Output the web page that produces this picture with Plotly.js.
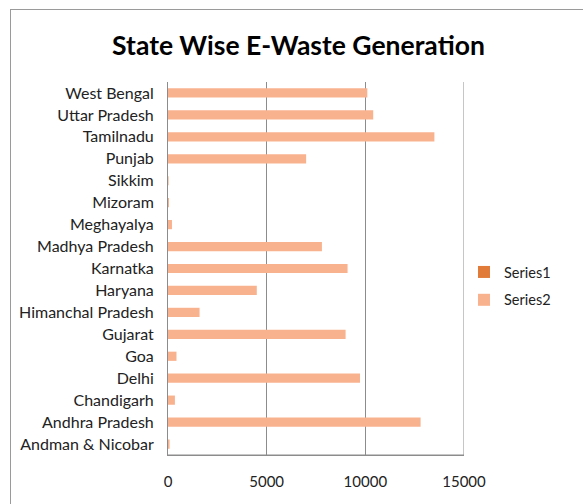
<!DOCTYPE html>
<html><head><meta charset="utf-8">
<script src="https://cdn.plot.ly/plotly-3.0.1.min.js"></script>
<style>
html,body{margin:0;padding:0;background:#fff;}
#wrap{position:relative;width:583px;height:504px;overflow:hidden;}
#plot{position:absolute;left:0;top:0;width:583px;height:504px;}
#frame{position:absolute;left:10px;top:9px;width:600px;height:600px;border-left:1px solid #9a9a9a;border-top:1px solid #9a9a9a;pointer-events:none;}
</style></head>
<body><div id="wrap"><div id="plot"></div><div id="frame"></div></div>
<script>
const categories = ["Andman & Nicobar","Andhra Pradesh","Chandigarh","Delhi","Goa","Gujarat","Himanchal Pradesh","Haryana","Karnatka","Madhya Pradesh","Meghayalya","Mizoram","Sikkim","Punjab","Tamilnadu","Uttar Pradesh","West Bengal"];
const series1 = [0,0,0,0,0,0,0,0,0,0,0,0,0,0,0,0,0];
const series2 = [80,12800,350,9730,430,9000,1600,4500,9100,7800,200,50,30,7000,13500,10400,10100];
const xTicks = [0,5000,10000,15000];

const font = "Lato, 'Open Sans', sans-serif";
const traces = [
  {type:'bar', orientation:'h', name:'Series1', legendgroup:'a', y:categories, x:series1, marker:{color:'#E07B39'}, width:0.42},
  {type:'bar', orientation:'h', name:'Series2', legendgroup:'b', y:categories, x:series2, marker:{color:'#F9B28E'}, width:0.42}
];
const layout = {
  width:583, height:504,
  margin:{l:168, r:119, t:82, b:49},
  paper_bgcolor:'#fff', plot_bgcolor:'#fff',
  barmode:'overlay',
  showlegend:true,
  title:{text:'<b>State Wise E-Waste Generation</b>', x:0.512, xanchor:'center', y:0.91, yanchor:'middle', font:{family:font, size:26.5, color:'#000'}},
  xaxis:{range:[0,15000], tickvals:xTicks, ticktext:xTicks.map(String), showgrid:true, gridcolor:'#8c8c8c', gridwidth:1,
         zeroline:false, showline:true, linecolor:'#8c8c8c', mirror:false, ticks:'outside', ticklen:13, tickcolor:'rgba(0,0,0,0)',
         tickfont:{family:font, size:15, color:'#222'}, fixedrange:true},
  yaxis:{type:'category', categoryorder:'array', categoryarray:categories, showgrid:false, zeroline:false,
         showline:true, linecolor:'#8c8c8c', ticks:'outside', ticklen:10, tickcolor:'rgba(0,0,0,0)',
         tickfont:{family:font, size:16, color:'#222'}, range:[-0.5,16.5]},
  shapes:[{type:'line', xref:'x', yref:'paper', x0:15000, x1:15000, y0:0, y1:1, line:{color:'#8c8c8c', width:1}},
          {type:'line', xref:'x', yref:'paper', x0:0, x1:15000, y0:0, y1:0, line:{color:'#8c8c8c', width:1}}],
  legend:{x:1.0, y:0.453, xanchor:'left', yanchor:'middle', traceorder:'grouped', font:{family:font, size:14.5, color:'#222'},
          itemwidth:30, tracegroupgap:6, bgcolor:'rgba(0,0,0,0)'}
};
Plotly.newPlot('plot', traces, layout, {displayModeBar:false, staticPlot:true});
</script></body></html>
